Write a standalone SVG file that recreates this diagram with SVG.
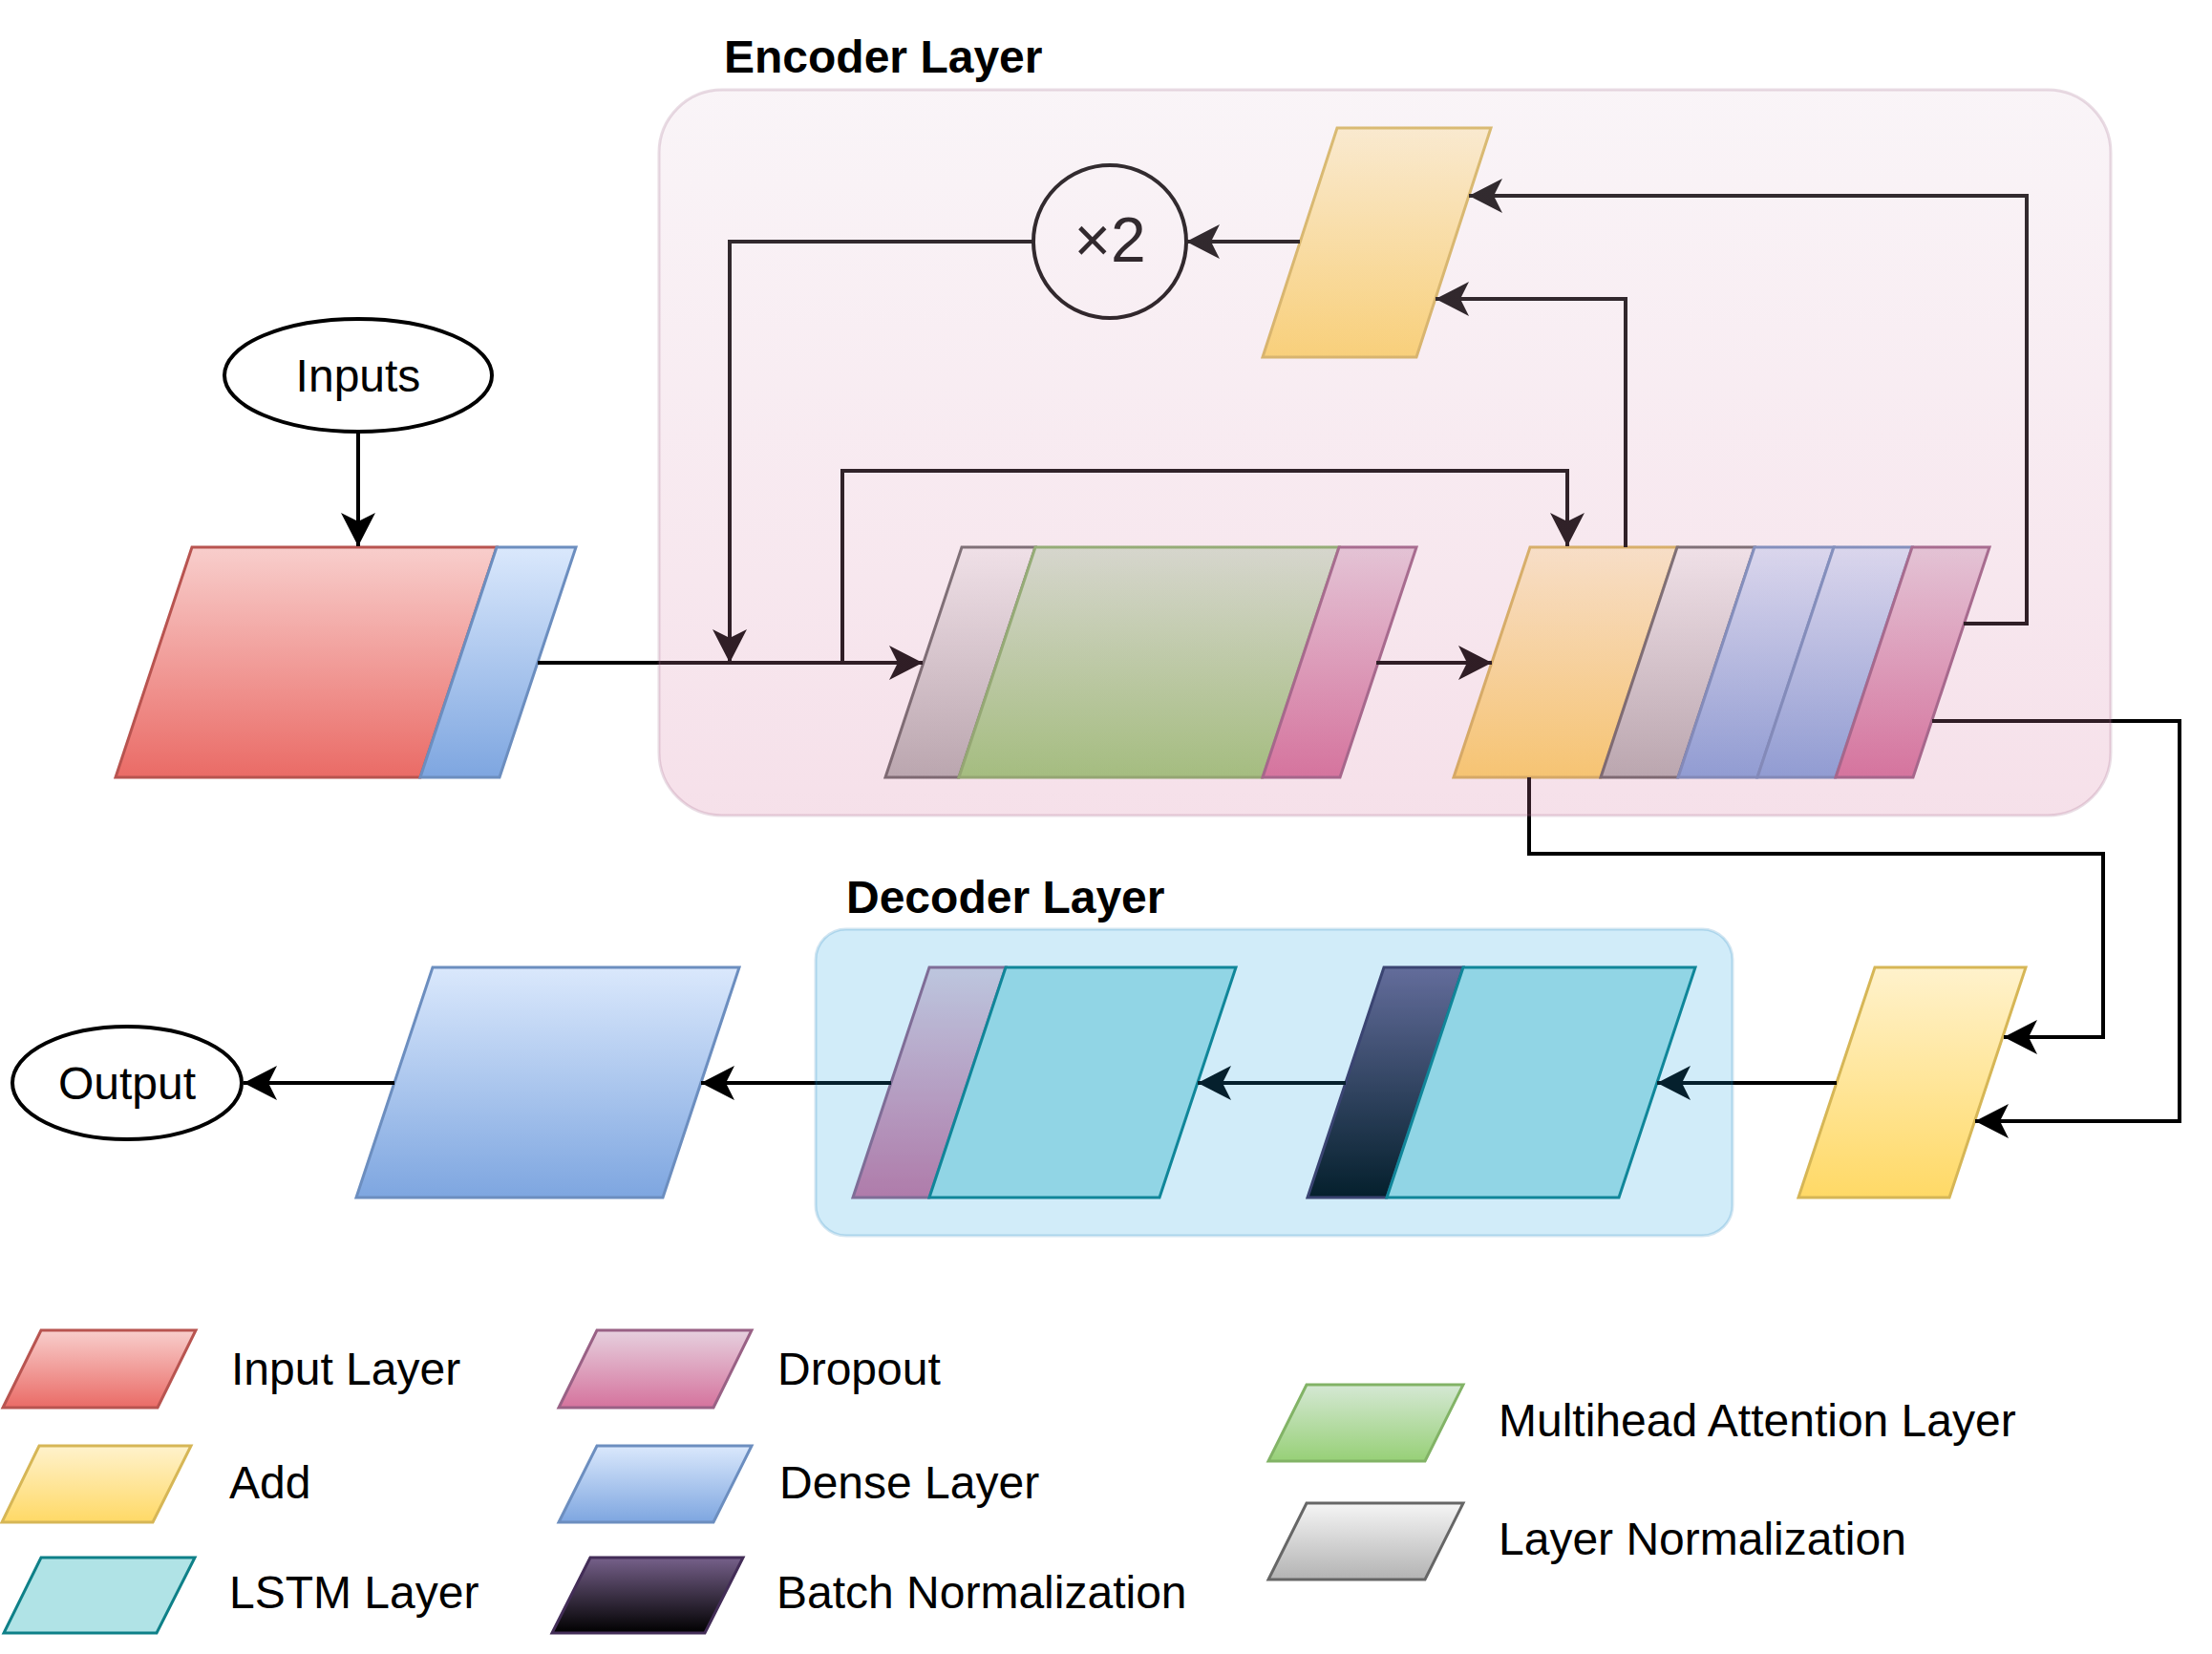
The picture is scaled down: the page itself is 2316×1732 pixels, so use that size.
<svg xmlns="http://www.w3.org/2000/svg" width="2316" height="1732" viewBox="0 0 2316 1732">
  <style>
    text { font-family: "Liberation Sans", Arial, sans-serif; fill: #000; }
    .lbl { font-size: 48px; }
    .title { font-size: 48px; font-weight: bold; }
    .term { fill: #fff; stroke: #000; stroke-width: 4; }
    .blk { stroke-width: 3; stroke-linejoin: miter; }
    .input { fill: url(#gInput); stroke: #b85450; }
    .dense { fill: url(#gDense); stroke: #6c8ebf; }
    .add { fill: url(#gAdd); stroke: #d6b656; }
    .drop { fill: url(#gDrop); stroke: #996185; }
    .mha { fill: url(#gMha); stroke: #82b366; }
    .ln { fill: url(#gLn); stroke: #666666; }
    .lstm { fill: #b0e3e6; stroke: #0e8088; }
    .bn { fill: url(#gBn); stroke: #432d57; }
    .wire { fill: none; stroke: #000; stroke-width: 4; marker-end: url(#arrow); }
  </style>
  <defs>
    <linearGradient id="gInput" x1="0" y1="0" x2="0" y2="1"><stop offset="0" stop-color="#f8cecc"/><stop offset="1" stop-color="#ea6b66"/></linearGradient>
    <linearGradient id="gDense" x1="0" y1="0" x2="0" y2="1"><stop offset="0" stop-color="#dae8fc"/><stop offset="1" stop-color="#7ea6e0"/></linearGradient>
    <linearGradient id="gAdd" x1="0" y1="0" x2="0" y2="1"><stop offset="0" stop-color="#fff2cc"/><stop offset="1" stop-color="#ffd966"/></linearGradient>
    <linearGradient id="gDrop" x1="0" y1="0" x2="0" y2="1"><stop offset="0" stop-color="#e6d0de"/><stop offset="1" stop-color="#d5739d"/></linearGradient>
    <linearGradient id="gMha" x1="0" y1="0" x2="0" y2="1"><stop offset="0" stop-color="#d5e8d4"/><stop offset="1" stop-color="#97d077"/></linearGradient>
    <linearGradient id="gLn" x1="0" y1="0" x2="0" y2="1"><stop offset="0" stop-color="#f5f5f5"/><stop offset="1" stop-color="#b3b3b3"/></linearGradient>
    <linearGradient id="gBn" x1="0" y1="0" x2="0" y2="1"><stop offset="0" stop-color="#76608a"/><stop offset="1" stop-color="#000000"/></linearGradient>
    <linearGradient id="gEnc" x1="0" y1="0" x2="0" y2="1"><stop offset="0" stop-color="#e6d0de"/><stop offset="1" stop-color="#d5739d"/></linearGradient>
    <marker id="arrow" markerUnits="userSpaceOnUse" viewBox="0 0 35 36" markerWidth="35" markerHeight="36" refX="35" refY="18" orient="auto">
      <path d="M0,0 L35,18 L0,36 L9,18 Z" fill="#000"/>
    </marker>
  </defs>

  <!-- terminals -->
  <g id="inputs">
    <ellipse class="term" cx="375" cy="393" rx="140" ry="59"/>
    <text class="lbl" x="375" y="410" text-anchor="middle">Inputs</text>
  </g>
  <g id="output">
    <ellipse class="term" cx="133" cy="1134" rx="120" ry="59"/>
    <text class="lbl" x="133" y="1151" text-anchor="middle">Output</text>
  </g>

  <!-- input layer + dense -->
  <g id="input-block" class="blk">
    <polygon class="input" points="201,573 520,573 440,814 121,814"/>
    <polygon class="dense" points="520,573 603,573 523,814 440,814"/>
  </g>

  <!-- attention block: layer norm, multihead attention, dropout -->
  <g id="attention-block" class="blk">
    <polygon class="ln" points="1007,573 1084,573 1004,814 927,814"/>
    <polygon class="mha" points="1084,573 1402,573 1322,814 1004,814"/>
    <polygon class="drop" points="1402,573 1483,573 1403,814 1322,814"/>
  </g>

  <!-- feed-forward block: add, layer norm, dense, dense, dropout -->
  <g id="ffn-block" class="blk">
    <polygon class="add" points="1602,573 1756,573 1676,814 1522,814"/>
    <polygon class="ln" points="1756,573 1837,573 1757,814 1676,814"/>
    <polygon class="dense" points="1837,573 1920,573 1840,814 1757,814"/>
    <polygon class="dense" points="1920,573 2002,573 1922,814 1840,814"/>
    <polygon class="drop" points="2002,573 2083,573 2003,814 1922,814"/>
  </g>

  <g id="residual-add" class="blk">
    <polygon class="add" points="1400,134 1561,134 1483,374 1322,374"/>
  </g>

  <g id="repeat">
    <ellipse cx="1162" cy="253" rx="80" ry="80" fill="none" stroke="#000" stroke-width="4"/>
    <text x="1162" y="274" text-anchor="middle" font-size="66">×2</text>
  </g>

  <!-- decoder blocks -->
  <g id="lstm-dropout" class="blk">
    <polygon class="drop" points="973,1013 1053,1013 973,1254 893,1254"/>
    <polygon class="lstm" points="1053,1013 1294,1013 1214,1254 973,1254"/>
  </g>
  <g id="lstm-batchnorm" class="blk">
    <polygon class="bn" points="1449,1013 1532,1013 1452,1254 1369,1254"/>
    <polygon class="lstm" points="1532,1013 1775,1013 1695,1254 1452,1254"/>
  </g>
  <g id="decoder-add" class="blk">
    <polygon class="add" points="1963,1013 2121,1013 2041,1254 1883,1254"/>
  </g>
  <g id="output-dense" class="blk">
    <polygon class="dense" points="453,1013 774,1013 694,1254 373,1254"/>
  </g>

  <!-- connectors -->
  <g id="connectors">
    <path class="wire" d="M375,453 L375,572"/>
    <path class="wire" d="M563,694 L966,694"/>
    <path class="wire" d="M1082,253 L764,253 L764,694"/>
    <path class="wire" d="M882,694 L882,493 L1641,493 L1641,572"/>
    <path class="wire" d="M1361,253 L1242,253"/>
    <path class="wire" d="M1441,694 L1562,694"/>
    <path class="wire" d="M1702,573 L1702,313 L1503,313"/>
    <path class="wire" d="M2056,653 L2122,653 L2122,205 L1538,205"/>
    <path class="wire" d="M2023,755 L2282,755 L2282,1174 L2068,1174"/>
    <path class="wire" d="M1601,814 L1601,894 L2202,894 L2202,1086 L2098,1086"/>
    <path class="wire" d="M1923,1134 L1735,1134"/>
    <path class="wire" d="M1409,1134 L1254,1134"/>
    <path class="wire" d="M933,1134 L734,1134"/>
    <path class="wire" d="M413,1134 L255,1134"/>
  </g>

  <!-- layer containers (translucent, laid over their contents) -->
  <g id="encoder-layer">
    <rect x="690" y="94" width="1520" height="760" rx="66" ry="66" fill="url(#gEnc)" fill-opacity="0.22" stroke="#996185" stroke-opacity="0.22" stroke-width="3"/>
    <text class="title" x="758" y="76">Encoder Layer</text>
  </g>
  <g id="decoder-layer">
    <rect x="854" y="973" width="960" height="321" rx="32" ry="32" fill="#1ba1e2" fill-opacity="0.2" stroke="#006eaf" stroke-opacity="0.18" stroke-width="3"/>
    <text class="title" x="886" y="956">Decoder Layer</text>
  </g>

  <!-- legend -->
  <g id="legend-input" class="blk">
    <polygon class="input" points="43,1393 205,1393 165,1474 3,1474"/>
    <text class="lbl" x="242" y="1450">Input Layer</text>
  </g>
  <g id="legend-add" class="blk">
    <polygon class="add" points="41,1514 200,1514 160,1594 2,1594"/>
    <text class="lbl" x="240" y="1569">Add</text>
  </g>
  <g id="legend-lstm" class="blk">
    <polygon class="lstm" points="43,1631 204,1631 164,1710 4,1710"/>
    <text class="lbl" x="240" y="1684">LSTM Layer</text>
  </g>
  <g id="legend-dropout" class="blk">
    <polygon class="drop" points="625,1393 787,1393 747,1474 585,1474"/>
    <text class="lbl" x="814" y="1450">Dropout</text>
  </g>
  <g id="legend-dense" class="blk">
    <polygon class="dense" points="625,1514 787,1514 747,1594 585,1594"/>
    <text class="lbl" x="816" y="1569">Dense Layer</text>
  </g>
  <g id="legend-batchnorm" class="blk">
    <polygon class="bn" points="618,1631 778,1631 738,1710 578,1710"/>
    <text class="lbl" x="813" y="1684">Batch Normalization</text>
  </g>
  <g id="legend-mha" class="blk">
    <polygon class="mha" points="1368,1450 1532,1450 1492,1530 1328,1530"/>
    <text class="lbl" x="1569" y="1504">Multihead Attention Layer</text>
  </g>
  <g id="legend-ln" class="blk">
    <polygon class="ln" points="1368,1574 1532,1574 1492,1654 1328,1654"/>
    <text class="lbl" x="1569" y="1628">Layer Normalization</text>
  </g>
</svg>
